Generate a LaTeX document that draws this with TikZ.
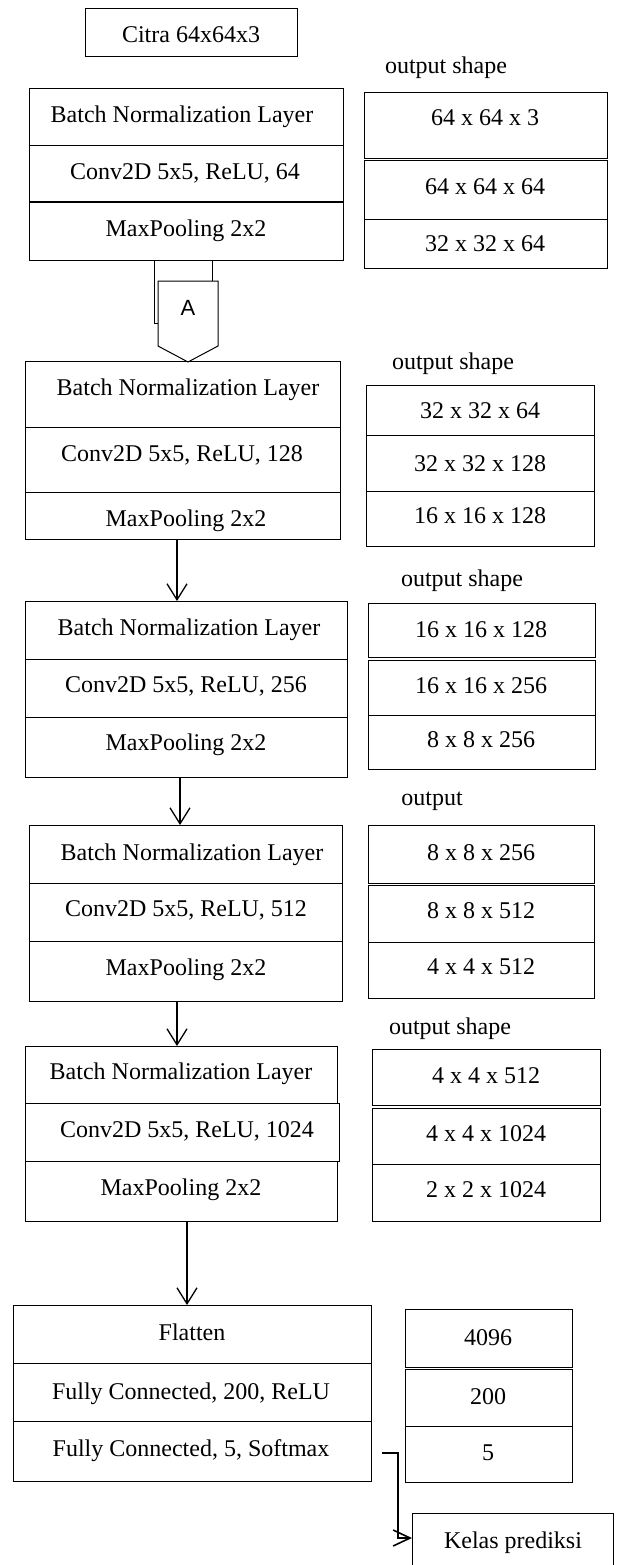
\documentclass[tikz,border=0pt]{standalone}
\usepackage{fontspec}
\setmainfont{Liberation Serif}
\newfontfamily\sansA{Liberation Sans}
\usetikzlibrary{arrows.meta}
\tikzset{
  cellbox/.style={draw, line width=1pt, inner sep=0pt, outer sep=0pt, anchor=north west},
  lbl/.style={font=\fontsize{24}{28}\selectfont, inner sep=0pt, anchor=base},
  arr/.style={line width=1.3pt, -{Straight Barb[length=16pt,width=20pt,line width=1.3pt]}},
  elbow/.style={line width=1.8pt, -{Straight Barb[length=17pt,width=16pt,line width=1.6pt]}},
  shapeline/.style={line width=1pt},
}
% name, x1, y1, x2, y2, text, text x, text visual centre y
\newcommand\mycell[8]{%
  \node[cellbox, minimum width={(#4-#2)*1pt}, minimum height={(#5-#3)*1pt}] (#1) at (#2,#3) {};
  \node[lbl] (#1t) at (#7,{#8+8}) {#6};
}
\newcommand\mylabel[4]{%
  \node[lbl] (#1) at (#2,{#3+6}) {#4};
}
\begin{document}
\begin{tikzpicture}[x=1pt,y=-1pt]
\useasboundingbox (0,0) rectangle (616,1565);
\clip (0,0) rectangle (616,1565);
\fill[white] (0,0) rectangle (616,1565);

% input
\mycell{cit}{85}{9}{297}{57}{Citra 64x64x3}{191}{35}

% block 1
\mylabel{os1}{446}{68}{output shape}
\mycell{L1a}{29}{89}{343}{146}{Batch Normalization Layer}{182}{115}
\mycell{L1b}{29}{146}{343}{202}{Conv2D 5x5, ReLU, 64}{185}{172}
\mycell{L1c}{29}{202}{343}{260}{MaxPooling 2x2}{186}{228}
\mycell{R1a}{364}{93}{607}{159}{64 x 64 x 3}{485}{118}
\mycell{R1b}{364}{161}{607}{219}{64 x 64 x 64}{485}{187}
\mycell{R1c}{364}{219}{607}{268}{32 x 32 x 64}{485}{243}

% off-page connector
\draw[shapeline, fill=white] (154,260) rectangle (212,323);
\draw[shapeline, fill=white] (158,281) -- (218,281) -- (218,346) -- (188,362) -- (158,346) -- cycle;
\node[inner sep=0pt, font=\sansA\fontsize{22}{24}\selectfont] (conA) at (188,308) {A};

% block 2
\mylabel{os2}{453}{363}{output shape}
\mycell{L2a}{25}{361}{340}{427}{Batch Normalization Layer}{188}{387}
\mycell{L2b}{25}{427}{340}{492}{Conv2D 5x5, ReLU, 128}{182}{453}
\mycell{L2c}{25}{492}{340}{539}{MaxPooling 2x2}{186}{518}
\mycell{R2a}{366}{385}{594}{435}{32 x 32 x 64}{480}{410}
\mycell{R2b}{366}{435}{594}{491}{32 x 32 x 128}{480}{463}
\mycell{R2c}{366}{491}{594}{546}{16 x 16 x 128}{480}{515}

% block 3
\mylabel{os3}{462}{580}{output shape}
\mycell{L3a}{25}{601}{347}{659}{Batch Normalization Layer}{189}{627}
\mycell{L3b}{25}{659}{347}{717}{Conv2D 5x5, ReLU, 256}{186}{684}
\mycell{L3c}{25}{717}{347}{777}{MaxPooling 2x2}{186}{742}
\mycell{R3a}{368}{603}{595}{657}{16 x 16 x 128}{481}{629}
\mycell{R3b}{368}{660}{595}{715}{16 x 16 x 256}{481}{685}
\mycell{R3c}{368}{715}{595}{769}{8 x 8 x 256}{481}{739}

% block 4
\mylabel{os4}{432}{799}{output}
\mycell{L4a}{29}{825}{342}{883}{Batch Normalization Layer}{192}{852}
\mycell{L4b}{29}{883}{342}{941}{Conv2D 5x5, ReLU, 512}{186}{908}
\mycell{L4c}{29}{941}{342}{1001}{MaxPooling 2x2}{186}{967}
\mycell{R4a}{368}{825}{594}{883}{8 x 8 x 256}{481}{852}
\mycell{R4b}{368}{885}{594}{942}{8 x 8 x 512}{481}{910}
\mycell{R4c}{368}{942}{594}{998}{4 x 4 x 512}{481}{966}

% block 5
\mylabel{os5}{450}{1028}{output shape}
\mycell{L5a}{25}{1046}{337}{1103}{Batch Normalization Layer}{181}{1071}
\mycell{L5b}{25}{1103}{339}{1161}{Conv2D 5x5, ReLU, 1024}{187}{1129}
\mycell{L5c}{25}{1161}{337}{1221}{MaxPooling 2x2}{181}{1187}
\mycell{R5a}{372}{1049}{600}{1105}{4 x 4 x 512}{486}{1075}
\mycell{R5b}{372}{1108}{600}{1164}{4 x 4 x 1024}{486}{1133}
\mycell{R5c}{372}{1164}{600}{1221}{2 x 2 x 1024}{486}{1189}

% block 6
\mycell{L6a}{13}{1305}{371}{1363}{Flatten}{192}{1332}
\mycell{L6b}{13}{1363}{371}{1421}{Fully Connected, 200, ReLU}{191}{1391}
\mycell{L6c}{13}{1421}{371}{1481}{Fully Connected, 5, Softmax}{191}{1448}
\mycell{R6a}{405}{1309}{572}{1367}{4096}{488}{1337}
\mycell{R6b}{405}{1369}{572}{1426}{200}{488}{1396}
\mycell{R6c}{405}{1426}{572}{1482}{5}{488}{1452}

% output class
\mycell{kelas}{412}{1513}{613}{1571}{Kelas prediksi}{513}{1540}

% arrows
\coordinate (x177) at (177,0);
\coordinate (x180) at (180,0);
\coordinate (x187) at (187,0);
\draw[arr] (L2c.south -| x177) -- (L3a.north -| x177);
\draw[arr] (L3c.south -| x180) -- (L4a.north -| x180);
\draw[arr] (L4c.south -| x177) -- (L5a.north -| x177);
\draw[arr] (L5c.south -| x187) -- (L6a.north -| x187);
\draw[elbow] ([xshift=11pt,yshift=-2pt]L6c.east) -- ++(16,0) |- ([yshift=4pt]kelas.west);
\end{tikzpicture}
\end{document}
